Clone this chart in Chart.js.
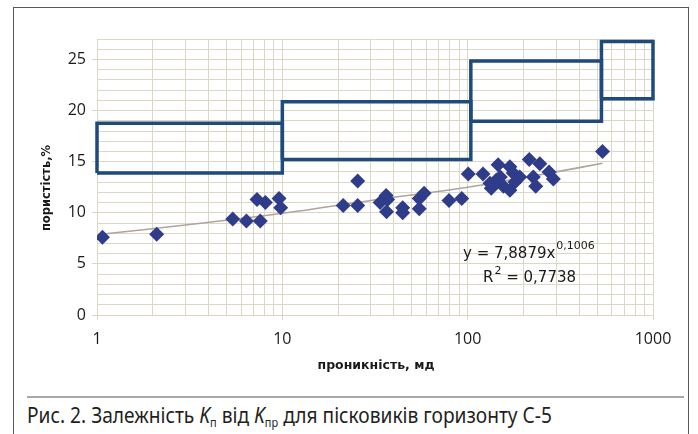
<!DOCTYPE html>
<html>
<head>
<meta charset="utf-8">
<script src="https://cdn.jsdelivr.net/npm/chart.js@4/dist/chart.umd.min.js"></script>
<style>
  html, body { margin: 0; padding: 0; background: #fff; }
  body { width: 698px; height: 434px; position: relative; overflow: hidden; }
  #frame { position: absolute; left: 13px; top: 7px; width: 676px; height: 450px;
           border: 1.5px solid #5c5954; border-bottom: none; box-sizing: border-box; }
  #wrap { position: absolute; left: 0; top: 0; width: 698px; height: 390px; }
  #sep { position: absolute; left: 27px; top: 396px; width: 657px; height: 2px; background: #a8a8a8; }
  #cap { position: absolute; left: 27px; top: 403px; font-family: "Liberation Sans Narrow", "Noto Sans", sans-serif;
         font-size: 21px; line-height: 24px; color: #231f20; white-space: nowrap; transform-origin: 0 0; }
  #cap sub { font-size: 12px; vertical-align: -4px; line-height: 0; }
</style>
</head>
<body>
<div id="frame"></div>
<div id="wrap"><canvas id="chart"></canvas></div>
<div id="sep"></div>
<div id="cap">Рис. 2. Залежність <i>K</i><sub>п</sub> від <i>K</i><sub>пр</sub> для пісковиків горизонту С-5</div>
<script>
// permeability, mD (x) and porosity, % (y)
const permK = [1.07, 2.1, 5.4, 6.4, 7.6, 7.3, 8.1, 9.6, 9.8,
  21.3, 25.5, 25.5, 33.7, 36.3, 36.5, 37, 44.6, 44.6, 54.8, 58.2, 54.8, 79.3, 92.9,
  100.7, 121, 132, 134, 143, 146, 156, 150, 169, 176, 169, 191, 180, 215, 245, 226, 233, 275, 290, 534];
const porosity = [7.6, 7.9, 9.4, 9.2, 9.2, 11.3, 11.0, 11.4, 10.5,
  10.7, 13.1, 10.7, 11.0, 11.7, 10.1, 11.3, 10.5, 10.0, 11.4, 11.9, 10.4, 11.2, 11.4,
  13.8, 13.8, 12.9, 12.4, 13.2, 14.7, 12.6, 13.5, 14.5, 13.9, 12.2, 13.5, 13.0, 15.2, 14.8, 13.5, 12.6, 14.0, 13.3, 16.0];

// power trend line y = 7,8879x^0,1006
const trendK = [1.05, 3, 10, 30, 100, 300, 534];
const trendP = [7.9, 8.8, 9.95, 11.2, 12.5, 14.0, 14.85];

// class rectangles: permeability range and porosity range
const boxK = [[1, 10], [10, 104], [104, 527], [527, 1000]];
const boxP = [[13.9, 18.75], [15.2, 20.85], [18.95, 24.85], [21.15, 26.75]];

const xGridVals = [1,2,3,4,5,6,7,8,9,10,20,30,40,50,60,70,80,90,100,200,300,400,500,600,700,800,900,1000];
const xLabelVals = [1, 10, 100, 1000];
const yMax = 27;

const xTitle = 'проникність, мд';
const yTitle = 'пористість,%';
const eqMain = 'y = 7,8879x';
const eqPow = '0,1006';
const r2Value = ' = 0,7738';

const gridColor = '#dcd8c8';
const boxColor = '#1f4b7c';
const markColor = '#2f3c8a';
const textColor = '#1a1a1a';

const datasets = [];
boxK.forEach(function(k, i) {
    const p = boxP[i];
    datasets.push({
        data: [{x: k[0], y: p[0]}, {x: k[1], y: p[0]}, {x: k[1], y: p[1]}, {x: k[0], y: p[1]}, {x: k[0], y: p[0]}],
        showLine: true, borderColor: boxColor, borderWidth: 3.5, pointRadius: 0, clip: 6,
        borderJoinStyle: 'miter', order: 3
    });
});
datasets.push({
    data: trendK.map((k, i) => ({x: k, y: trendP[i]})),
    showLine: true, borderColor: '#aea59c', borderWidth: 1.6, pointRadius: 0, tension: 0.3, order: 2
});
datasets.push({
    data: permK.map((k, i) => ({x: k, y: porosity[i]})),
    pointStyle: 'rectRot', pointRadius: 7.5, pointHoverRadius: 7.5,
    backgroundColor: markColor, borderColor: markColor, borderWidth: 0, order: 1
});

const textPlugin = {
    id: 'texts',
    afterDraw(chart) {
        const ctx = chart.ctx;
        ctx.save();
        ctx.fillStyle = textColor;
        ctx.textBaseline = 'middle';
        // axis titles
        ctx.textAlign = 'center';
        ctx.font = 'bold 12.5px "DejaVu Sans"';
        ctx.fillText(xTitle, 376, 366);
        ctx.save();
        ctx.font = 'bold 11.5px "DejaVu Sans"';
        ctx.translate(47, 188);
        ctx.rotate(-Math.PI / 2);
        ctx.fillText(yTitle, 0, 0);
        ctx.restore();
        // equation
        ctx.textAlign = 'left';
        ctx.font = '15px "DejaVu Sans"';
        let x = 463;
        ctx.fillText(eqMain, x, 254);
        x += ctx.measureText(eqMain).width + 1;
        ctx.font = '11px "DejaVu Sans"';
        ctx.fillText(eqPow, x, 246);
        ctx.font = '15px "DejaVu Sans"';
        x = 483;
        ctx.fillText('R', x, 278);
        x += ctx.measureText('R').width + 1;
        ctx.font = '11px "DejaVu Sans"';
        ctx.fillText('2', x, 271);
        x += ctx.measureText('2').width;
        ctx.font = '15px "DejaVu Sans"';
        ctx.fillText(r2Value, x, 278);
        ctx.restore();
    }
};

new Chart(document.getElementById('chart'), {
    type: 'scatter',
    data: { datasets: datasets },
    options: {
        responsive: true,
        maintainAspectRatio: false,
        animation: false,
        layout: { padding: { left: 20, right: 45, top: 39, bottom: 15 } },
        plugins: { legend: { display: false }, tooltip: { enabled: false } },
        scales: {
            x: {
                type: 'logarithmic', min: 1, max: 1000,
                afterBuildTicks: function(scale) { scale.ticks = xGridVals.map(v => ({value: v})); },
                afterFit: function(scale) { scale.height = 60; },
                grid: { color: gridColor, lineWidth: 1, tickLength: 5,
                        tickColor: c => (c.tick && xLabelVals.includes(c.tick.value)) ? gridColor : 'rgba(0,0,0,0)' },
                border: { color: gridColor },
                ticks: { autoSkip: false, maxRotation: 0, padding: 10, color: textColor,
                         font: { family: '"Open Sans"', size: 16 },
                         callback: v => xLabelVals.includes(v) ? String(v) : '' }
            },
            y: {
                min: 0, max: yMax,
                afterFit: function(scale) { scale.width = 77; },
                grid: { color: gridColor, lineWidth: 1, tickLength: 5,
                        tickColor: c => (c.tick && c.tick.value % 5 === 0) ? gridColor : 'rgba(0,0,0,0)' },
                border: { color: gridColor },
                ticks: { stepSize: 1, autoSkip: false, padding: 6, color: textColor,
                         font: { family: '"Open Sans"', size: 16 },
                         callback: v => (v % 5 === 0) ? String(v) : '' }
            }
        }
    },
    plugins: [textPlugin]
});

// fit caption to the width it has in the figure
const cap = document.getElementById('cap');
const w = cap.getBoundingClientRect().width;
cap.style.transform = 'scaleX(' + (525 / w) + ')';
</script>
</body>
</html>
